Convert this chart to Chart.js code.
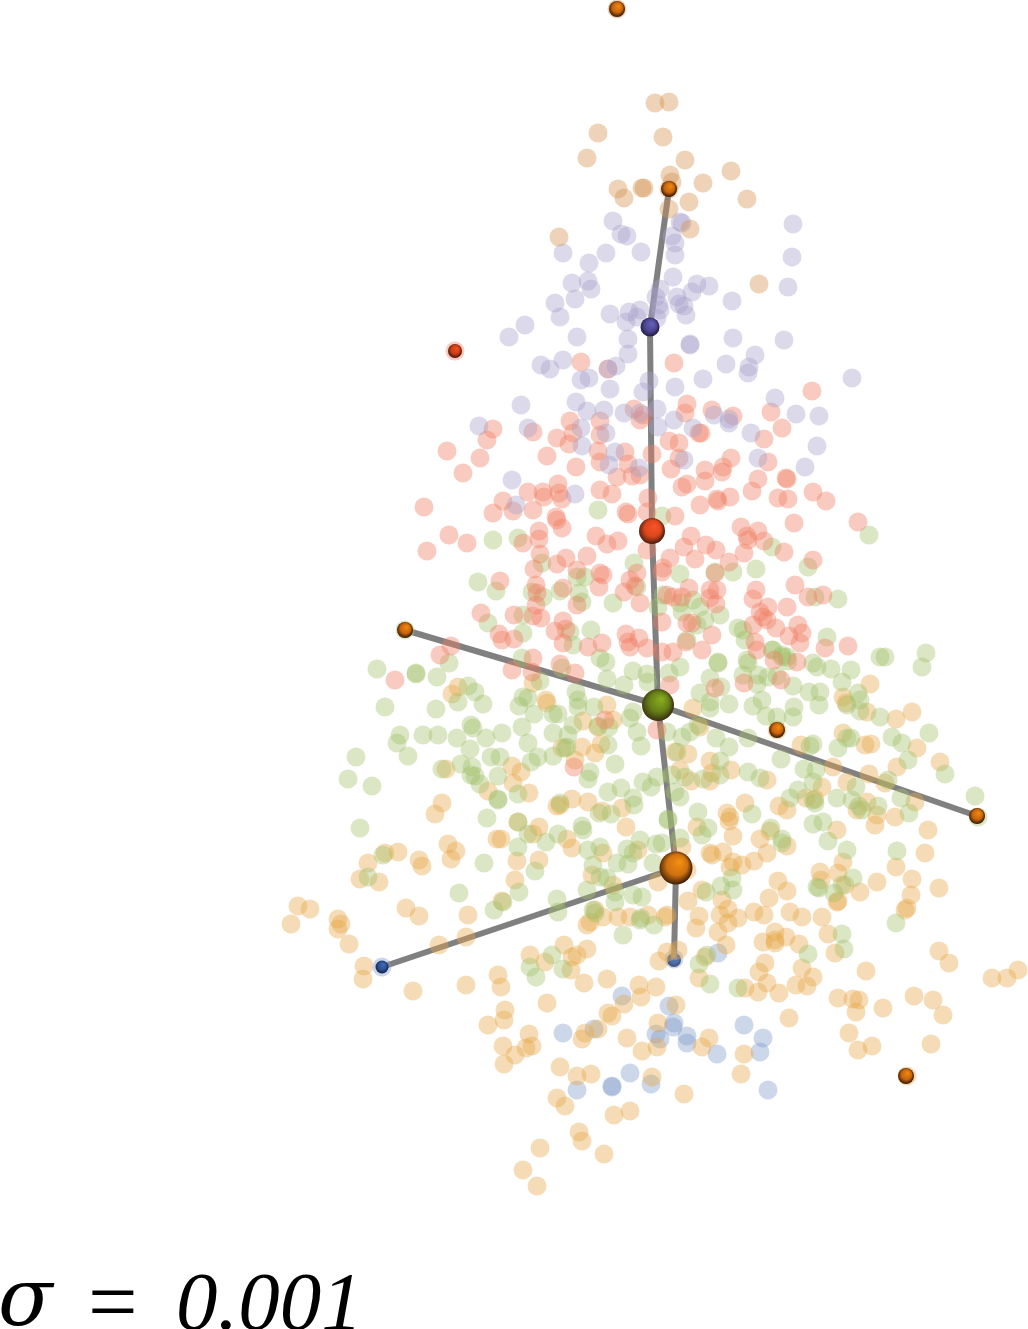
<!DOCTYPE html>
<html lang="en">
<head>
<meta charset="UTF-8">
<title>sigma = 0.001</title>
<script src="https://cdn.jsdelivr.net/npm/chart.js"></script>
<style>
  html, body { margin: 0; padding: 0; background: #fff; overflow: hidden; }
  #wrap { position: relative; width: 1028px; height: 1329px; overflow: hidden; }
  canvas { position: absolute; left: 0; top: 0; }
  #label span {
    position: absolute; top: 1260px; white-space: pre;
    font: italic 83px/83px "Liberation Serif", serif; color: #000;
  }
  #label .sym { left: -2px; top: 1248px; font-family: "DejaVu Serif", serif; font-size: 80px; line-height: 100px; }
  #label .eq { left: 88px; font-style: normal; font-size: 88px; }
  #label .num { left: 176px; }
</style>
</head>
<body>
<div id="wrap">
  <canvas id="chart" width="1028" height="1329"></canvas>
  <div id="label"><span class="sym">σ</span><span class="eq">=</span><span class="num">0.001</span></div>
</div>
<script>
// values, [x, y] per point
const cloudBrown = [[617,9],[655,103],[669,102],[598,133],[663,137],[587,158],[685,160],[731,171],[670,175],[672,182],[703,183],[618,189],[624,198],[642,188],[644,188],[669,189],[689,202],[747,199],[669,209],[690,229],[559,237],[759,284]];

const cloudPurple = [[613,221],[621,234],[627,236],[563,253],[606,253],[641,252],[682,223],[680,222],[672,236],[675,243],[675,255],[793,224],[792,257],[788,287],[589,263],[588,281],[572,283],[591,289],[575,299],[555,303],[560,317],[673,277],[697,284],[709,286],[692,292],[660,289],[656,297],[677,297],[659,305],[660,310],[679,304],[684,306],[686,315],[732,301],[610,314],[629,312],[640,310],[637,317],[626,322],[657,318],[650,327],[525,325],[509,337],[577,337],[628,339],[690,344],[690,345],[733,338],[784,340],[628,354],[755,355],[726,364],[749,367],[748,373],[541,365],[550,369],[563,360],[616,366],[608,369],[589,378],[581,380],[649,381],[610,389],[643,392],[675,387],[703,379],[852,378],[775,398],[796,414],[819,416],[521,405],[576,402],[587,411],[604,410],[624,413],[640,413],[657,409],[674,420],[714,415],[729,419],[729,423],[693,428],[658,427],[479,426],[528,428],[581,428],[606,433],[582,446],[751,433],[817,446],[615,452],[758,458],[684,460],[609,465],[639,468],[805,467],[512,480],[575,494],[516,505]];

const cloudRed = [[455,351],[581,362],[608,369],[674,363],[812,391],[634,409],[687,404],[685,413],[712,410],[733,416],[771,412],[640,420],[643,415],[570,421],[600,421],[782,428],[493,429],[533,432],[573,433],[557,438],[600,435],[487,440],[569,444],[699,433],[701,433],[669,441],[679,443],[764,439],[447,451],[480,458],[547,456],[598,451],[625,452],[652,454],[600,462],[679,458],[731,458],[768,462],[463,473],[576,467],[628,464],[671,469],[705,470],[723,467],[722,472],[617,477],[632,476],[640,475],[758,479],[786,478],[787,479],[558,484],[687,484],[682,487],[705,481],[528,492],[543,492],[559,493],[600,490],[612,494],[648,498],[752,491],[730,497],[717,499],[718,501],[778,498],[788,499],[813,492],[826,501],[424,507],[503,501],[544,497],[562,499],[493,513],[513,511],[533,510],[700,505],[626,512],[628,514],[647,512],[675,516],[556,517],[557,520],[562,528],[794,523],[858,522],[741,527],[758,531],[539,531],[596,536],[449,535],[539,539],[691,536],[747,536],[748,540],[764,541],[618,541],[607,544],[467,543],[523,543],[684,547],[706,545],[716,550],[647,550],[427,551],[540,554],[744,553],[784,552],[566,558],[587,556],[695,559],[670,558],[729,562],[813,560],[557,564],[534,569],[577,570],[663,568],[662,572],[715,573],[600,573],[603,575],[637,573],[630,580],[500,581],[536,585],[689,588],[599,587],[563,588],[635,586],[795,585],[756,590],[710,590],[717,590],[624,592],[537,593],[667,595],[673,597],[682,597],[808,597],[823,595],[753,599],[640,603],[536,605],[710,598],[716,604],[577,605],[768,607],[787,607],[760,612],[481,613],[514,615],[533,616],[541,618],[763,617],[563,621],[662,622],[753,625],[687,623],[692,623],[767,620],[798,625],[776,628],[555,631],[566,629],[499,634],[626,634],[712,635],[789,636],[802,633],[639,638],[502,640],[514,639],[628,642],[755,642],[800,643],[563,643],[602,643],[588,647],[630,647],[647,648],[825,648],[848,646],[686,642],[757,650],[451,646],[440,655],[533,658],[662,652],[673,652],[702,650],[395,680],[512,670],[532,672],[560,664],[575,673],[670,685],[715,688],[744,683],[781,680],[797,662],[774,660],[605,720],[574,767],[657,730]];

const cloudGreen = [[598,510],[662,516],[869,535],[493,540],[518,538],[542,563],[634,563],[756,569],[808,567],[772,547],[733,572],[715,572],[680,574],[577,577],[585,577],[478,582],[496,591],[532,592],[543,597],[560,591],[579,593],[582,602],[613,603],[637,587],[663,595],[838,599],[815,597],[693,600],[680,603],[658,607],[682,612],[700,607],[720,615],[705,620],[697,625],[523,615],[488,623],[523,633],[591,630],[570,632],[738,628],[743,630],[745,640],[827,637],[573,645],[687,640],[772,650],[782,655],[787,657],[522,658],[600,658],[606,662],[718,662],[747,660],[880,657],[813,663],[405,630],
[377,669],[416,673],[416,674],[437,677],[449,663],[385,707],[436,709],[468,686],[475,692],[483,704],[458,702],[562,668],[576,692],[540,681],[607,679],[633,671],[647,674],[624,685],[648,682],[523,697],[528,698],[519,706],[534,714],[553,714],[558,714],[578,707],[578,700],[594,707],[630,718],[633,712],[637,732],[609,727],[598,726],[573,725],[400,735],[423,735],[438,735],[397,743],[408,756],[457,738],[471,725],[473,728],[486,738],[502,733],[522,727],[528,743],[553,733],[568,735],[567,747],[565,748],[470,749],[491,757],[500,757],[538,757],[531,762],[553,756],[608,745],[641,746],[615,764],[356,757],[348,779],[372,786],[442,769],[461,764],[472,767],[471,775],[475,776],[480,784],[498,776],[498,799],[498,800],[518,794],[590,772],[588,779],[608,792],[621,788],[643,782],[651,787],[657,777],[560,803],[599,813],[611,814],[633,798],[634,805],[668,819],[487,818],[518,822],[360,828],[582,826],[583,830],[528,834],[546,842],[558,834],[518,847],[588,850],[600,847],[640,840],[627,849],[633,853],[656,844],[617,863],[628,864],[653,863],[593,865],[383,855],[484,863],[535,871],[368,877],[607,878],[600,877],[587,890],[615,892],[615,902],[633,895],[642,897],[459,893],[519,892],[503,902],[494,910],[557,899],[558,912],[595,913],[641,918],[593,910],
[885,657],[926,653],[922,667],[817,667],[831,669],[851,670],[842,682],[788,661],[782,657],[773,650],[748,663],[718,663],[680,667],[669,673],[743,675],[758,675],[768,677],[777,676],[710,678],[757,684],[721,687],[700,693],[793,686],[809,692],[820,692],[858,693],[860,700],[762,700],[753,706],[729,704],[710,702],[710,708],[819,705],[794,707],[793,717],[777,717],[766,716],[847,705],[860,711],[880,717],[698,725],[690,732],[682,737],[748,738],[716,738],[729,747],[667,732],[677,752],[847,738],[851,738],[838,748],[813,744],[810,746],[892,737],[902,743],[929,733],[908,760],[945,774],[975,796],[720,761],[781,759],[804,769],[816,770],[720,775],[748,772],[760,778],[703,779],[685,777],[672,775],[888,780],[813,782],[856,787],[798,790],[790,798],[837,798],[852,800],[813,800],[815,803],[901,798],[878,806],[859,806],[862,810],[909,813],[978,817],[675,792],[680,797],[698,812],[752,814],[708,828],[702,835],[668,820],[813,824],[823,822],[771,828],[782,839],[782,843],[828,841],[847,850],[897,851],[680,838],[732,878],[721,886],[733,890],[706,892],[817,887],[819,888],[834,893],[842,885],[853,878],[662,843],
[640,920],[654,925],[623,935],[552,955],[530,967],[563,969],[536,977],[896,923],[842,934],[844,949],[808,954],[707,955],[699,964],[710,984],[738,988]];

const cloudOrange = [[458,687],[452,694],[546,700],[547,703],[533,683],[512,766],[521,772],[513,783],[488,791],[529,793],[446,769],[442,803],[435,814],[557,806],[560,805],[572,799],[588,802],[602,811],[622,808],[626,827],[562,748],[582,747],[575,760],[595,753],[601,744],[583,721],[598,727],[613,720],[607,705],[518,822],[539,827],[533,834],[497,839],[501,839],[567,839],[572,848],[603,853],[638,850],[448,844],[456,851],[451,859],[419,860],[422,866],[398,852],[385,853],[368,863],[360,879],[379,882],[517,861],[539,860],[515,880],[592,875],[613,885],[658,882],[502,901],[406,908],[419,916],[468,915],
[870,684],[843,697],[846,703],[867,712],[912,712],[896,719],[693,708],[700,727],[843,733],[801,745],[865,745],[871,744],[917,748],[940,762],[897,767],[777,730],[688,754],[675,752],[710,761],[731,770],[712,773],[710,781],[691,781],[680,770],[833,767],[869,774],[885,783],[847,782],[822,787],[767,780],[806,798],[815,799],[745,803],[779,806],[787,810],[915,802],[867,802],[857,810],[877,815],[875,825],[895,817],[727,813],[730,817],[729,821],[697,827],[837,830],[928,830],[733,836],[760,839],[770,831],[787,846],[767,853],[754,861],[723,852],[710,853],[712,855],[682,847],[733,862],[742,865],[730,867],[925,853],[896,867],[843,862],[820,872],[838,873],[821,880],[877,882],[912,879],[778,881],[939,888],[911,895],[787,891],[860,892],[845,885],[838,901],[769,898],[702,890],[688,901],[722,900],[728,909],[907,908],[905,910],[754,912],[764,915],[790,912],[802,917],[822,917],[699,916],[720,915],[738,918],[687,870],
[298,906],[310,909],[291,924],[338,919],[341,924],[338,929],[349,944],[364,966],[363,979],[413,991],[466,937],[439,945],[498,975],[501,987],[466,985],[547,1003],[505,1010],[504,1020],[488,1025],[530,955],[545,962],[564,945],[577,955],[572,957],[587,949],[571,970],[584,983],[607,979],[639,985],[656,987],[641,997],[624,1004],[608,1013],[612,1016],[587,925],[595,910],[590,922],[603,917],[618,917],[630,917],[648,915],[665,917],[667,915],[529,1034],[532,1046],[526,1048],[515,1055],[503,1046],[504,1064],[560,1067],[577,1076],[591,1074],[557,1098],[565,1106],[598,1029],[585,1033],[582,1039],[627,1038],[642,1051],[658,1023],[657,1047],[652,1077],[614,1115],[630,1111],[579,1132],[582,1141],[540,1148],[604,1154],[523,1170],[537,1186],[659,961],[667,952],
[696,928],[837,902],[728,923],[718,932],[726,945],[775,932],[786,937],[775,940],[775,943],[763,942],[799,944],[828,934],[835,953],[678,950],[699,978],[705,957],[765,963],[759,972],[767,983],[802,968],[813,977],[796,985],[807,986],[745,988],[758,992],[779,993],[866,971],[939,951],[949,963],[992,978],[1007,978],[1018,970],[838,998],[853,999],[859,1000],[856,1012],[883,1008],[914,996],[933,1000],[943,1015],[849,1033],[858,1050],[872,1046],[931,1044],[789,1018],[676,1005],[709,1038],[702,1047],[744,1054],[741,1074],[684,1094],[907,1076]];

const cloudBlue = [[382,967],[622,996],[563,1033],[594,1029],[656,1034],[660,1039],[612,1086],[612,1087],[630,1073],[651,1084],[577,1090],[718,953],[674,959],[669,1006],[674,1023],[673,1027],[687,1036],[687,1043],[744,1025],[763,1038],[760,1052],[717,1054],[768,1090]];

// tree edges, each edge is [from node, to node]
const nodes = [[669,189],[650,327],[652,531],[658,705],[676,868],[674,960],[405,630],[977,816],[382,967]];
const edges = [[0,1],[1,2],[2,3],[3,4],[4,5],[6,3],[3,7],[4,8]];

const nodesOrangeSmall = [[617,9],[669,189],[405,630],[977,816],[777,730],[906,1076]];
const nodesRed = [[455,351]];
const nodesPurple = [[650,327]];
const nodesBlue = [[382,967]];
const nodesBlueCovered = [[674,960]];
const nodesRedBig = [[652,531]];
const nodesGreenBig = [[658,705]];
const nodesOrangeBig = [[676,868]];

// turn edges into one line with gaps between them
const treeLine = [];
edges.forEach(e => {
  treeLine.push({x: nodes[e[0]][0], y: nodes[e[0]][1]});
  treeLine.push({x: nodes[e[1]][0], y: nodes[e[1]][1]});
  treeLine.push({x: null, y: null});
});

const toXY = list => list.map(p => ({x: p[0], y: p[1]}));

function cloud(list, color) {
  return {
    data: toXY(list),
    order: 5,
    pointRadius: 9.5,
    pointBorderWidth: 0,
    pointBackgroundColor: color,
    showLine: false
  };
}

// ball look: bright spot up and to the right, dark rim below
function sphere(list, radius, light, mid, dark, order) {
  return {
    data: toXY(list),
    order: order || 1,
    pointRadius: radius,
    pointBorderWidth: 0,
    showLine: false,
    pointBackgroundColor: function(c) {
      if (!c.raw) return mid;
      const x = c.chart.scales.x.getPixelForValue(c.raw.x);
      const y = c.chart.scales.y.getPixelForValue(c.raw.y);
      if (!isFinite(x) || !isFinite(y)) return mid;
      const g = c.chart.ctx.createRadialGradient(x + radius * 0.25, y - radius * 0.4, 0, x - radius * 0.05, y - radius * 0.05, radius * 1.05);
      g.addColorStop(0, light);
      g.addColorStop(0.6, mid);
      g.addColorStop(1, dark);
      return g;
    }
  };
}

new Chart(document.getElementById('chart'), {
  type: 'scatter',
  data: {
    datasets: [
      sphere(nodesOrangeBig, 16.5, '#f59012', '#cf720f', '#3e1d08'),
      sphere(nodesGreenBig, 16, '#8ab01e', '#667f18', '#3a3010'),
      sphere(nodesRedBig, 13, '#f8552a', '#dc461c', '#4a1c10'),
      sphere(nodesPurple, 9.5, '#6a62b8', '#4d4594', '#201c40'),
      sphere(nodesOrangeSmall, 8, '#f08a10', '#c9640c', '#2e1606'),
      sphere(nodesRed, 7, '#f05020', '#cc3c14', '#3a1208'),
      sphere(nodesBlue, 6.5, '#3a70c0', '#2c5090', '#141c40'),
      sphere(nodesBlueCovered, 7, '#3a70c0', '#2c5090', '#141c40', 10),
      cloud(cloudBrown, 'rgba(212,145,78,0.4)'),
      cloud(cloudPurple, 'rgba(167,160,202,0.4)'),
      cloud(cloudRed, 'rgba(240,125,97,0.4)'),
      cloud(cloudGreen, 'rgba(162,192,107,0.4)'),
      cloud(cloudOrange, 'rgba(230,167,72,0.4)'),
      cloud(cloudBlue, 'rgba(127,155,202,0.4)'),
      {
        data: treeLine,
        order: 9,
        showLine: true,
        spanGaps: false,
        borderColor: '#808080',
        borderWidth: 6,
        pointRadius: 0
      }
    ]
  },
  options: {
    responsive: false,
    animation: false,
    clip: false,
    layout: { padding: 0, autoPadding: false },
    plugins: { legend: { display: false }, tooltip: { enabled: false }, title: { display: false } },
    scales: {
      x: { type: 'linear', min: 0, max: 1028, display: false },
      y: { type: 'linear', min: 0, max: 1329, reverse: true, display: false }
    }
  }
});
</script>
</body>
</html>
